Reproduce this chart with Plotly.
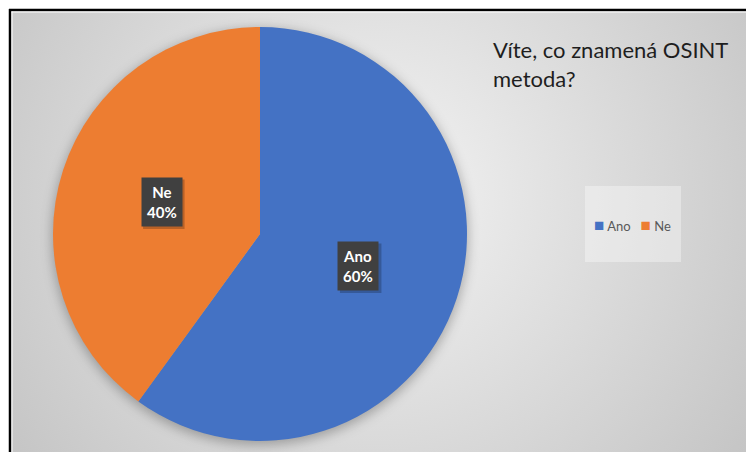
import math
import base64
import plotly.graph_objects as go

# ---- data ----
labels = ["Ano", "Ne"]
values = [60, 40]
colors = ["#4472C4", "#ED7D31"]
title_lines = ["Víte, co znamená OSINT", "metoda?"]

# ---- layout constants (pixels) ----
W, H = 746, 452
CX, CY, R = 260, 234, 207
FX, FY = 9, 9  # frame origin
FONT = "Lato, Liberation Sans, sans-serif"
BOX_W, BOX_H = 41, 49

dom_x = [(CX - R) / W, (CX + R) / W]
dom_y = [1 - (CY + R) / H, 1 - (CY - R) / H]

fig = go.Figure(
    go.Pie(
        labels=labels,
        values=values,
        marker=dict(colors=colors, line=dict(width=0)),
        sort=False,
        direction="clockwise",
        rotation=0,
        textinfo="none",
        hoverinfo="label+percent",
        domain=dict(x=dom_x, y=dom_y),
        showlegend=False,
    )
)

# background gradient + pie shadow as an svg image
bw, bh = W - FX, H - FY
svg = f'''<svg xmlns="http://www.w3.org/2000/svg" width="{bw}" height="{bh}" viewBox="0 0 {bw} {bh}">
<defs>
<radialGradient id="g" gradientUnits="userSpaceOnUse" cx="{bw*0.5}" cy="{bh*0.42}" r="{bw*0.62}">
<stop offset="0" stop-color="#f4f4f4"/>
<stop offset="1" stop-color="#c4c4c4"/>
</radialGradient>
<filter id="b" x="-20%" y="-20%" width="140%" height="140%"><feGaussianBlur stdDeviation="6"/></filter>
</defs>
<rect x="0" y="0" width="{bw}" height="{bh}" fill="url(#g)"/>
<circle cx="{CX-FX}" cy="{CY-FY+3}" r="{R+1}" fill="#000" fill-opacity="0.28" filter="url(#b)"/>
</svg>'''
src = "data:image/svg+xml;base64," + base64.b64encode(svg.encode("utf-8")).decode()

fig.add_layout_image(
    dict(source=src, xref="paper", yref="paper", x=FX / W, y=1 - FY / H,
         sizex=bw / W, sizey=bh / H, xanchor="left", yanchor="top",
         sizing="stretch", layer="below")
)

# frame
shapes = [
    dict(type="line", xref="paper", yref="paper", x0=FX / W, x1=1, y0=1 - 10 / H, y1=1 - 10 / H,
         line=dict(color="black", width=2.5)),
    dict(type="line", xref="paper", yref="paper", x0=10 / W, x1=10 / W, y0=0, y1=1 - FY / H,
         line=dict(color="black", width=2.5)),
    dict(type="line", xref="paper", yref="paper", x0=11.5 / W, x1=1, y0=1 - 12 / H, y1=1 - 12 / H,
         line=dict(color="white", width=1)),
    dict(type="line", xref="paper", yref="paper", x0=12 / W, x1=12 / W, y0=0, y1=1 - 11.5 / H,
         line=dict(color="white", width=1)),
    # legend backdrop
    dict(type="rect", xref="paper", yref="paper", x0=585 / W, x1=681 / W, y0=1 - 262 / H, y1=1 - 186 / H,
         fillcolor="rgba(255,255,255,0.35)", line=dict(width=0), layer="below"),
]

# data labels computed from values
annotations = []
total = sum(values)
cum = 0
for lab, v in zip(labels, values):
    mid = (cum + v / 2) / total * 2 * math.pi
    cum += v
    px = CX + 0.5 * R * math.sin(mid)
    py = CY - 0.5 * R * math.cos(mid)
    pct = round(v / total * 100)
    txt = f"<b>{lab}</b><br><b>{pct}%</b>"
    # soft shadow of the label box
    shapes.append(dict(
        type="rect", xref="paper", yref="paper", layer="above",
        x0=(px - BOX_W / 2 + 2) / W, x1=(px + BOX_W / 2 + 2.5) / W,
        y0=1 - (py + BOX_H / 2 + 2.5) / H, y1=1 - (py - BOX_H / 2 + 2) / H,
        fillcolor="rgba(0,0,0,0.22)", line=dict(width=0),
    ))
    annotations.append(dict(
        x=px / W, y=1 - py / H, xref="paper", yref="paper", showarrow=False,
        xanchor="center", yanchor="middle",
        text=txt, bgcolor="#404040", borderpad=5,
        font=dict(family=FONT, size=15, color="white"),
    ))

# title
annotations.append(dict(
    x=491 / W, y=1 - 34 / H, xref="paper", yref="paper", xanchor="left", yanchor="top",
    showarrow=False, align="left", text="<br>".join(title_lines),
    font=dict(family=FONT, size=22, color="#1e1e1e"),
))

# legend (drawn as text with coloured squares)
legend_text = "&nbsp;&nbsp;&nbsp;".join(
    f"<span style='color:{c};font-size:17px'>■</span>&nbsp;{lab}" for lab, c in zip(labels, colors)
)
annotations.append(dict(
    x=592 / W, y=1 - 224 / H, xref="paper", yref="paper", xanchor="left", yanchor="middle",
    showarrow=False, align="left", text=legend_text,
    font=dict(family=FONT, size=13, color="#595959"),
))

fig.update_layout(
    width=W, height=H,
    margin=dict(l=0, r=0, t=0, b=0),
    paper_bgcolor="white",
    plot_bgcolor="rgba(0,0,0,0)",
    shapes=shapes,
    annotations=annotations,
    showlegend=False,
)

fig.write_html(
    "out.html",
    config={"displayModeBar": False},
    post_script="document.body.style.margin='0';document.body.style.overflow='hidden';",
)
